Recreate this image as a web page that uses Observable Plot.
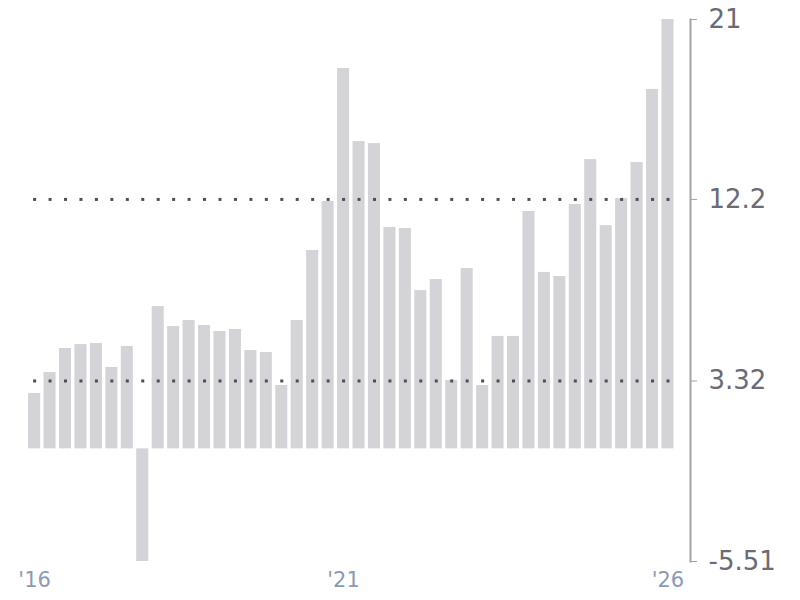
<!DOCTYPE html>
<html>
<head>
<meta charset="utf-8">
<script src="https://cdn.jsdelivr.net/npm/d3@7"></script>
<script src="https://cdn.jsdelivr.net/npm/@observablehq/plot@0.6"></script>
<style>
  html, body { margin: 0; padding: 0; background: #fff; }
</style>
</head>
<body>
<div id="chart"></div>
<script>
const quarters = [
  "2016Q1","2016Q2","2016Q3","2016Q4",
  "2017Q1","2017Q2","2017Q3","2017Q4",
  "2018Q1","2018Q2","2018Q3","2018Q4",
  "2019Q1","2019Q2","2019Q3","2019Q4",
  "2020Q1","2020Q2","2020Q3","2020Q4",
  "2021Q1","2021Q2","2021Q3","2021Q4",
  "2022Q1","2022Q2","2022Q3","2022Q4",
  "2023Q1","2023Q2","2023Q3","2023Q4",
  "2024Q1","2024Q2","2024Q3","2024Q4",
  "2025Q1","2025Q2","2025Q3","2025Q4",
  "2026Q1","2026Q2"
];
const values = [
  2.71, 3.73, 4.91, 5.10,
  5.15, 3.98, 5.01, -5.51,
  6.96, 5.98, 6.28, 6.03,
  5.74, 5.84, 4.81, 4.71,
  3.10, 6.28, 9.70, 12.10,
  18.60, 15.03, 14.93, 10.83,
  10.78, 7.74, 8.28, 3.35,
  8.82, 3.10, 5.50, 5.50,
  11.61, 8.63, 8.43, 11.95,
  14.15, 10.92, 12.24, 14.00,
  17.58, 21.00
];
const yTicks = [-5.51, 3.32, 12.2, 21];
const yTickLabels = ["-5.51", "3.32", "12.2", "21"];
const refLines = [3.32, 12.2];
const xTickCats = ["2016Q1", "2021Q1", "2026Q2"];
const xTickLabels = ["'16", "'21", "'26"];

const data = quarters.map((q, i) => ({q, v: values[i]}));
const refData = refLines.flatMap(r => quarters.map(q => ({q, r})));

const chart = Plot.plot({
  width: 800,
  height: 600,
  marginTop: 19,
  marginBottom: 39,
  marginLeft: 25,
  marginRight: 110,
  style: {fontFamily: "DejaVu Sans", background: "#fff"},
  x: {type: "band", domain: quarters, paddingInner: 0.22, paddingOuter: 0.2, insetRight: 13.4, round: false, label: null},
  y: {domain: [-5.51, 21], label: null},
  marks: [
    Plot.barY(data, {x: "q", y: "v", fill: "#d4d4d8"}),
    Plot.dot(refData, {x: "q", y: "r", symbol: "square", r: 1.7, fill: "#4e4e58", stroke: "none"}),
    Plot.frame({anchor: "right", stroke: "#a3a3aa", strokeWidth: 2}),
    Plot.axisY({
      anchor: "right",
      ticks: yTicks,
      tickFormat: d => yTickLabels[yTicks.indexOf(d)],
      tickSize: 6,
      tickPadding: 12,
      fontSize: 26,
      stroke: "#a3a3aa",
      fill: "#6b6b76",
      label: null
    }),
    Plot.axisX({
      ticks: xTickCats,
      tickFormat: d => xTickLabels[xTickCats.indexOf(d)],
      tickSize: 0,
      tickPadding: 11,
      fontSize: 21,
      fill: "#8a9bb5",
      label: null
    })
  ]
});
document.getElementById("chart").appendChild(chart);
</script>
</body>
</html>
